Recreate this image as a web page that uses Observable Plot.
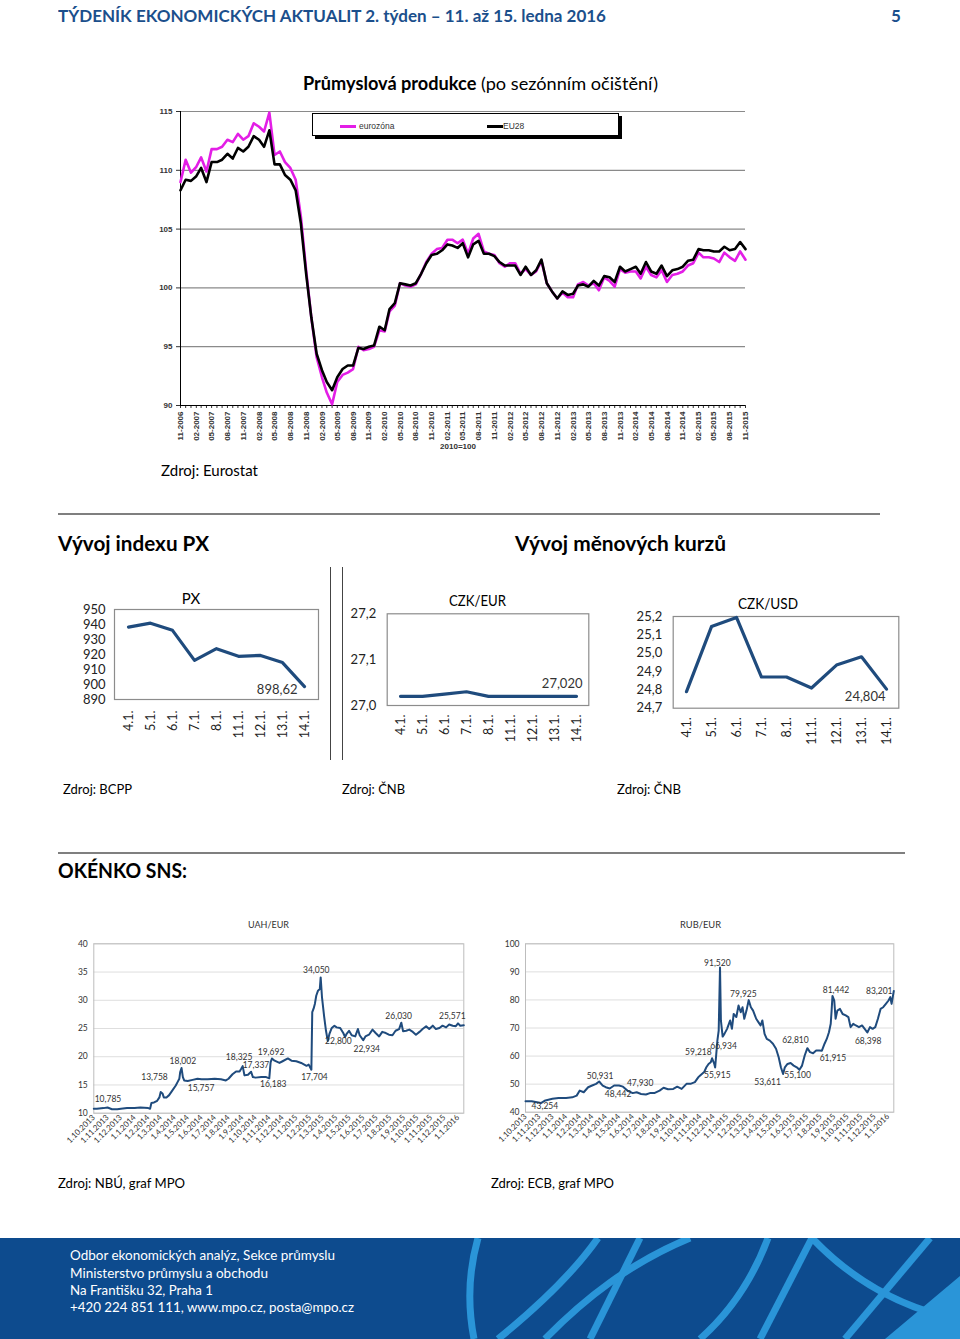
<!DOCTYPE html>
<html><head><meta charset="utf-8">
<script src="https://cdn.jsdelivr.net/npm/d3@7"></script>
<script src="https://cdn.jsdelivr.net/npm/@observablehq/plot@0.6"></script>
<style>
body{margin:0;background:#fff;}
#page{position:relative;width:960px;height:1339px;overflow:hidden;font-family:Lato,"Open Sans",sans-serif;background:#fff;}
.abs{position:absolute;white-space:nowrap;}
svg{display:block;overflow:visible;}
</style></head><body><div id="page"></div>
<script>
// ---------------- DATA ----------------
// Industrial production (2010=100), monthly 11-2006 .. 11-2015
const ipStart = "2006-11-01";
const eurozone = [109.0,110.9,109.8,110.3,111.1,109.9,111.8,111.8,112.0,112.6,
112.4,113.1,112.6,112.9,114.0,113.7,113.3,114.9,111.3,111.6,
110.7,110.2,109.2,106.1,101.5,97.5,94.1,92.4,91.1,90.1,
92.0,92.6,92.8,93.1,95.0,94.7,94.8,95.0,96.4,96.3,
98.0,98.5,100.4,100.2,100.1,100.3,101.2,102.2,102.9,103.3,
103.4,104.1,104.1,103.8,104.1,102.9,104.2,104.6,103.1,102.9,
102.8,102.1,101.8,102.1,102.1,101.2,101.6,101.1,101.4,102.3,
100.4,99.7,99.1,99.6,99.2,99.2,100.3,100.5,100.2,100.4,
99.8,100.9,100.6,100.1,101.6,101.3,101.4,101.4,100.8,101.8,
101.1,100.9,101.5,100.5,101.1,101.2,101.4,101.9,102.1,103.0,
102.6,102.6,102.5,102.2,103.0,102.6,102.3,103.1,102.4];
const eu28 = [108.3,109.2,109.1,109.5,110.2,109.0,110.7,110.7,110.9,111.4,
111.0,111.9,111.6,112.0,112.9,112.6,112.0,113.4,110.5,110.5,
109.6,109.2,108.3,105.5,101.2,97.5,94.4,93.0,92.0,91.3,
92.4,93.1,93.4,93.4,94.9,94.8,95.0,95.1,96.7,96.4,
98.2,98.7,100.4,100.3,100.2,100.4,101.2,102.1,102.8,102.9,
103.2,103.7,103.6,103.4,103.8,102.6,103.7,104.0,102.9,102.9,
102.7,102.2,101.9,101.9,101.9,101.1,101.8,101.1,101.5,102.4,
100.4,99.7,99.1,99.7,99.4,99.5,100.2,100.3,100.1,100.6,
100.2,101.0,100.9,100.5,101.8,101.4,101.6,101.8,101.2,102.2,
101.4,101.2,101.9,101.0,101.5,101.6,101.8,102.3,102.4,103.3,
103.2,103.2,103.1,103.1,103.5,103.2,103.3,103.9,103.3];
const ipYTicks = [90,95,100,105,110,115];
const ipGrid = [95,100,105,110,115];

// Daily charts (4.1. - 14.1.2016)
const dayLabels = ["4.1.","5.1.","6.1.","7.1.","8.1.","11.1.","12.1.","13.1.","14.1."];
const pxValues = [938.3,940.9,936.1,916.1,923.9,918.8,919.4,914.6,898.62];
const czkEurValues = [27.02,27.02,27.025,27.03,27.02,27.02,27.02,27.02,27.02];
const czkUsdValues = [24.79,25.145,25.195,24.87,24.87,24.81,24.935,24.98,24.804];
const pxTicks = [890,900,910,920,930,940,950];
const czkEurTicks = [27.0,27.1,27.2];
const czkUsdTicks = [24.7,24.8,24.9,25.0,25.1,25.2];

// UAH/EUR
const uahSeries = [["2013-10-01",10.79],["2013-10-08",10.8],["2013-10-23",10.9],["2013-11-01",11.0],["2013-11-11",10.7],["2013-11-23",10.7],["2013-12-01",10.8],["2013-12-15",10.9],["2014-01-01",10.9],["2014-01-14",11.0],["2014-02-01",10.9],["2014-02-05",10.8],["2014-02-08",11.8],["2014-02-14",11.9],["2014-02-21",12.2],["2014-02-26",12.8],["2014-03-01",13.76],["2014-03-05",13.5],["2014-03-08",12.8],["2014-03-14",12.8],["2014-03-20",13.2],["2014-03-27",14.0],["2014-04-04",14.9],["2014-04-08",15.5],["2014-04-12",16.1],["2014-04-14",17.3],["2014-04-17",18.0],["2014-04-20",16.4],["2014-04-23",15.8],["2014-05-01",15.7],["2014-05-12",15.9],["2014-05-23",16.1],["2014-06-01",16.0],["2014-06-15",16.0],["2014-07-01",16.1],["2014-07-15",16.0],["2014-07-26",15.8],["2014-08-01",16.1],["2014-08-10",16.9],["2014-08-18",17.4],["2014-08-26",17.4],["2014-08-30",17.9],["2014-09-02",18.33],["2014-09-06",16.7],["2014-09-14",16.8],["2014-09-21",17.34],["2014-09-25",16.4],["2014-10-01",16.3],["2014-10-14",16.4],["2014-10-25",16.4],["2014-11-01",16.18],["2014-11-04",19.0],["2014-11-07",19.69],["2014-11-13",19.3],["2014-11-24",18.9],["2014-12-01",19.2],["2014-12-13",19.7],["2014-12-21",19.3],["2015-01-01",19.2],["2015-01-12",18.9],["2015-01-24",18.4],["2015-01-29",18.6],["2015-02-04",17.7],["2015-02-06",27.9],["2015-02-09",28.5],["2015-02-12",29.4],["2015-02-15",30.8],["2015-02-19",31.7],["2015-02-23",32.0],["2015-02-25",34.05],["2015-02-28",30.5],["2015-03-05",27.0],["2015-03-09",24.6],["2015-03-13",22.8],["2015-03-17",24.1],["2015-03-22",25.1],["2015-03-28",25.5],["2015-04-02",25.2],["2015-04-10",25.1],["2015-04-17",24.2],["2015-04-21",23.5],["2015-04-25",24.1],["2015-04-30",24.6],["2015-05-06",23.8],["2015-05-14",23.6],["2015-05-20",24.9],["2015-05-24",23.8],["2015-06-01",22.93],["2015-06-06",23.6],["2015-06-14",23.9],["2015-06-22",24.8],["2015-06-29",24.2],["2015-07-07",23.6],["2015-07-14",24.4],["2015-07-22",24.2],["2015-07-29",23.9],["2015-08-06",23.8],["2015-08-13",24.6],["2015-08-21",24.9],["2015-08-26",26.03],["2015-08-30",24.5],["2015-09-06",24.6],["2015-09-13",24.8],["2015-09-21",24.4],["2015-09-28",23.9],["2015-10-06",24.4],["2015-10-13",24.9],["2015-10-21",25.4],["2015-10-28",24.9],["2015-11-05",25.5],["2015-11-12",24.9],["2015-11-20",25.1],["2015-11-27",25.5],["2015-12-05",25.2],["2015-12-12",25.7],["2015-12-20",25.5],["2015-12-27",25.4],["2016-01-01",25.9],["2016-01-06",25.5],["2016-01-14",25.57]];
const uahNotes = [["10,785","2013-11-02",12.4],["13,758","2014-02-15",16.3],["18,002","2014-04-20",19.15],["15,757","2014-05-31",14.37],["18,325","2014-08-25",19.86],["17,337","2014-10-02",18.45],["19,692","2014-11-05",20.75],["16,183","2014-11-10",15.08],["17,704","2015-02-11",16.32],["34,050","2015-02-15",35.26],["22,800","2015-04-06",22.7],["22,934","2015-06-09",21.28],["26,030","2015-08-20",27.12],["25,571","2015-12-19",27.12]];
const uahTicks = [10,15,20,25,30,35,40];

// RUB/EUR
const rubSeries = [["2013-10-01",43.9],["2013-10-15",43.9],["2013-11-05",43.25],["2013-11-15",44.2],["2013-12-01",44.8],["2013-12-15",45.1],["2014-01-01",45.1],["2014-01-15",45.3],["2014-01-25",45.9],["2014-02-01",47.7],["2014-02-10",47.1],["2014-02-20",48.9],["2014-03-01",49.5],["2014-03-10",50.1],["2014-03-17",50.93],["2014-03-25",49.5],["2014-04-01",48.9],["2014-04-10",48.44],["2014-04-20",49.5],["2014-05-01",49.5],["2014-05-10",49.1],["2014-05-20",47.7],["2014-06-01",46.8],["2014-06-10",47.1],["2014-06-20",46.5],["2014-07-01",46.3],["2014-07-10",46.8],["2014-07-20",46.8],["2014-08-01",47.7],["2014-08-10",48.7],["2014-08-20",48.2],["2014-09-01",48.3],["2014-09-10",49.1],["2014-09-20",48.3],["2014-10-01",50.1],["2014-10-10",50.1],["2014-10-20",50.7],["2014-10-28",52.5],["2014-11-01",53.1],["2014-11-10",54.3],["2014-11-15",56.0],["2014-11-20",57.2],["2014-11-25",57.8],["2014-11-28",59.22],["2014-12-03",57.2],["2014-12-05",55.92],["2014-12-10",65.5],["2014-12-13",69.1],["2014-12-16",91.52],["2014-12-18",72.7],["2014-12-22",66.93],["2014-12-26",67.9],["2015-01-01",69.7],["2015-01-08",72.7],["2015-01-12",69.7],["2015-01-16",75.0],["2015-01-22",73.9],["2015-01-27",78.0],["2015-02-01",75.6],["2015-02-05",77.4],["2015-02-09",73.3],["2015-02-14",76.2],["2015-02-19",79.93],["2015-02-24",77.4],["2015-03-01",76.2],["2015-03-08",73.3],["2015-03-13",72.1],["2015-03-18",70.9],["2015-03-22",72.7],["2015-03-27",67.9],["2015-04-01",66.1],["2015-04-08",65.5],["2015-04-15",64.4],["2015-04-22",62.6],["2015-04-28",59.6],["2015-05-03",56.0],["2015-05-08",53.61],["2015-05-12",56.0],["2015-05-18",57.2],["2015-05-25",57.5],["2015-06-01",56.6],["2015-06-08",56.0],["2015-06-14",55.1],["2015-06-20",56.6],["2015-06-26",60.2],["2015-07-02",62.81],["2015-07-08",61.4],["2015-07-15",61.0],["2015-07-22",62.0],["2015-07-29",62.0],["2015-08-04",61.92],["2015-08-10",64.4],["2015-08-15",66.1],["2015-08-20",68.5],["2015-08-24",71.5],["2015-08-26",76.2],["2015-08-28",81.44],["2015-09-01",79.8],["2015-09-04",73.3],["2015-09-08",76.2],["2015-09-14",76.8],["2015-09-20",75.0],["2015-09-27",74.5],["2015-10-03",73.9],["2015-10-08",70.3],["2015-10-14",71.5],["2015-10-20",70.9],["2015-10-27",70.3],["2015-11-03",70.9],["2015-11-09",69.7],["2015-11-15",68.4],["2015-11-21",70.3],["2015-11-27",69.7],["2015-12-03",70.3],["2015-12-09",73.3],["2015-12-15",76.8],["2015-12-21",77.4],["2015-12-27",78.6],["2016-01-02",79.8],["2016-01-06",81.0],["2016-01-09",78.6],["2016-01-14",83.2]];
const rubNotes = [["43,254","2013-11-14",42.0],["50,931","2014-03-19",52.7],["48,442","2014-04-29",46.3],["47,930","2014-06-18",50.2],["59,218","2014-10-28",61.3],["55,915","2014-12-10",53.1],["91,520","2014-12-10",93.0],["66,934","2014-12-24",63.4],["79,925","2015-02-07",81.9],["53,611","2015-04-03",50.6],["55,100","2015-06-10",53.1],["62,810","2015-06-05",65.5],["61,915","2015-08-29",59.1],["81,442","2015-09-05",83.3],["68,398","2015-11-17",65.2],["83,201","2015-12-12",83.0]];
const rubTicks = [40,50,60,70,80,90,100];

// ---------------- HELPERS ----------------
const page = document.getElementById("page");
const parse = d3.utcParse("%Y-%m-%d");
const BLUE = "#1f4b7d";
const CAL = "Lato, 'Open Sans', sans-serif";

function txt(html, x, yc, size, o = {}) {
  const el = document.createElement("div");
  el.className = "abs";
  el.innerHTML = html;
  Object.assign(el.style, {
    left: x + "px", top: (yc - size * 0.62) + "px", fontSize: size + "px",
    lineHeight: (size * 1.24) + "px", color: o.color || "#000",
    fontWeight: o.bold ? "700" : "400", fontFamily: o.font || CAL, zIndex: 5
  });
  page.appendChild(el);
  const w0 = el.getBoundingClientRect().width;
  let wf = w0;
  if (o.w) { el.style.transformOrigin = "0 50%"; el.style.transform = `scaleX(${o.w / w0})`; wf = o.w; }
  if (o.center) el.style.left = (x - wf / 2) + "px";
  return el;
}
function box(x, y, w, h, style) {
  const el = document.createElement("div");
  el.className = "abs";
  Object.assign(el.style, {left: x + "px", top: y + "px", width: w + "px", height: h + "px"}, style);
  page.appendChild(el);
  return el;
}
function place(svg, x, y) {
  const w = +svg.getAttribute("width"), h = +svg.getAttribute("height");
  svg.style.maxWidth = "none";
  svg.style.width = w + "px";
  svg.style.height = h + "px";
  const el = box(x, y, w, h, {});
  el.appendChild(svg);
  return el;
}

// ---------------- HEADER & TEXT ----------------
txt("TÝDENÍK EKONOMICKÝCH AKTUALIT 2. týden – 11. až 15. ledna 2016", 58, 16, 17, {bold: true, color: "#1b4f8c", w: 548});
txt("5", 891, 16, 17, {bold: true, color: "#1b4f8c"});
txt("<b>Průmyslová produkce</b> (po sezónním očištění)", 303, 83, 18, {w: 355});
txt("Zdroj: Eurostat", 161, 470, 15, {w: 97});
box(58, 513, 822, 2, {background: "#7f7f7f"});
txt("Vývoj indexu PX", 58, 543, 20, {bold: true, w: 151});
txt("Vývoj měnových kurzů", 515, 543, 20, {bold: true, w: 211});
box(330, 567, 1, 193, {background: "#444"});
box(342, 567, 1, 193, {background: "#444"});
txt("Zdroj: BCPP", 63, 789, 13, {w: 69});
txt("Zdroj: ČNB", 342, 789, 13, {w: 63});
txt("Zdroj: ČNB", 617, 789, 13, {w: 64});
box(58, 852, 847, 2, {background: "#7f7f7f"});
txt("OKÉNKO SNS:", 58, 870, 20, {bold: true, w: 129});
txt("Zdroj: NBÚ, graf MPO", 58, 1183, 14, {w: 127});
txt("Zdroj: ECB, graf MPO", 491, 1183, 14, {w: 123});

// ---------------- INDUSTRIAL PRODUCTION ----------------
const t0 = parse(ipStart);
const months = eurozone.map((_, i) => d3.utcMonth.offset(t0, i));
const quarters = months.filter((_, i) => i % 3 === 0);
const fmtMY = d => String(d.getUTCMonth() + 1).padStart(2, "0") + "-" + d.getUTCFullYear();
const ezData = eurozone.map((v, i) => ({date: months[i], v}));
const euData = eu28.map((v, i) => ({date: months[i], v}));

const ipChart = Plot.plot({
  width: 610, height: 360, marginLeft: 30, marginRight: 15, marginTop: 11, marginBottom: 55,
  style: {fontFamily: "'Liberation Sans', Arial, sans-serif", fontSize: "8px", fontWeight: "bold", color: "#333", background: "transparent"},
  x: {type: "utc", domain: [months[0], months[months.length - 1]], label: null},
  y: {domain: [90, 115], label: null},
  marks: [
    Plot.ruleY(ipGrid, {stroke: "#8a8a8a", strokeWidth: 1.2}),
    Plot.axisY({ticks: ipYTicks, tickSize: 4, tickPadding: 4, fontSize: 8, tickFormat: d => d, label: null}),
    Plot.axisX({ticks: months, tickSize: 3, tickFormat: () => "", label: null}),
    Plot.axisX({ticks: quarters, tickSize: 0, tickPadding: 6, tickRotate: -90, tickFormat: fmtMY, fontSize: 8, label: null}),
    Plot.ruleX([months[0]], {stroke: "#000", strokeWidth: 1}),
    Plot.ruleY([90], {stroke: "#000", strokeWidth: 1}),
    Plot.line(ezData, {x: "date", y: "v", stroke: "#e31ee6", strokeWidth: 2.6}),
    Plot.line(euData, {x: "date", y: "v", stroke: "#000", strokeWidth: 2.6})
  ]
});
place(ipChart, 150, 100);
txt("2010=100", 440, 447, 7.5, {bold: true, font: "'Liberation Sans', Arial, sans-serif", color: "#333", w: 36});
// legend
box(312, 113, 305, 21, {border: "1px solid #000", background: "#fff", boxShadow: "3px 3px 0 #000", zIndex: 4});
box(340, 125, 16, 3, {background: "#e31ee6", zIndex: 5});
txt("eurozóna", 359, 126, 8.5, {font: "'Liberation Sans', Arial, sans-serif", color: "#333"});
box(487, 125, 16, 3, {background: "#000", zIndex: 5});
txt("EU28", 503, 126, 8.5, {font: "'Liberation Sans', Arial, sans-serif", color: "#333"});

// ---------------- DAILY CHARTS ----------------
const comma = dec => d => d.toFixed(dec).replace(".", ",");
function smallChart(values, o) {
  const data = values.map((v, i) => ({day: dayLabels[i], v}));
  const last = [data[data.length - 1]];
  return Plot.plot({
    width: o.width, height: o.height, marginLeft: o.ml, marginRight: o.mr, marginTop: o.mt, marginBottom: o.mb,
    style: {fontFamily: CAL, color: "#222", background: "transparent"},
    x: {type: "point", domain: dayLabels, padding: 0.5, label: null},
    y: {domain: o.yDomain, label: null},
    marks: [
      Plot.frame({stroke: "#8c8c8c", strokeWidth: 1.2}),
      Plot.axisY({ticks: o.yTicks, tickSize: 0, tickPadding: o.yPad, tickFormat: o.fmt, fontSize: 13, label: null}),
      Plot.axisX({tickSize: 0, tickPadding: o.xPad, tickRotate: -90, fontSize: 12.5, label: null}),
      Plot.line(data, {x: "day", y: "v", stroke: BLUE, strokeWidth: 3.2}),
      Plot.text(last, {x: "day", y: "v", text: () => o.label, textAnchor: "end", dx: o.ldx, dy: o.ldy, fontSize: 13, fill: "#333"})
    ]
  });
}
place(smallChart(pxValues, {width: 270, height: 160, ml: 54, mr: 12, mt: 24, mb: 46, yDomain: [890, 950], yTicks: pxTicks, fmt: d => d, yPad: 9, xPad: 11, label: "898,62", ldx: -7, ldy: 3}), 60, 585);
txt("PX", 191, 598, 15, {center: true});
place(smallChart(czkEurValues, {width: 260, height: 160, ml: 46.7, mr: 11.7, mt: 23.3, mb: 45, yDomain: [27.0, 27.2], yTicks: czkEurTicks, fmt: comma(1), yPad: 11, xPad: 9, label: "27,020", ldx: 6, ldy: -13}), 340, 590);
txt("CZK/EUR", 477, 600, 15, {center: true, w: 57});
place(smallChart(czkUsdValues, {width: 290, height: 160, ml: 52.7, mr: 11.7, mt: 26, mb: 42.3, yDomain: [24.7, 25.2], yTicks: czkUsdTicks, fmt: comma(1), yPad: 11, xPad: 9, label: "24,804", ldx: -1, ldy: 8}), 620, 590);
txt("CZK/USD", 768, 603, 15, {center: true, w: 60});

// ---------------- SNS CHARTS ----------------
const fmtDMY = d => `${d.getUTCDate()}.${d.getUTCMonth() + 1}.${d.getUTCFullYear()}`;
function snsChart(series, notes, ticks, o) {
  const data = series.map(([d, v]) => ({date: parse(d), v}));
  const nd = notes.map(([t, d, v]) => ({t, date: parse(d), v}));
  const dom = [parse("2013-10-01"), parse("2016-01-14")];
  const mt = d3.utcMonth.range(dom[0], parse("2016-01-02"));
  return Plot.plot({
    width: o.width, height: o.height, marginLeft: o.ml, marginRight: o.mr, marginTop: o.mt, marginBottom: o.mb,
    style: {fontFamily: CAL, color: "#333", background: "transparent"},
    x: {type: "utc", domain: dom, label: null},
    y: {domain: [ticks[0], ticks[ticks.length - 1]], label: null},
    marks: [
      Plot.ruleY(ticks, {stroke: "#dedede", strokeWidth: 1}),
      Plot.frame({stroke: "#bdbdbd", strokeWidth: 1}),
      Plot.axisY({ticks, tickSize: 0, tickPadding: 6, fontSize: 8.5, tickFormat: d => d, label: null}),
      Plot.axisX({ticks: mt, tickSize: 0, tickPadding: 3, tickRotate: -45, tickFormat: fmtDMY, fontSize: 8, label: null}),
      Plot.line(data, {x: "date", y: "v", stroke: BLUE, strokeWidth: 2}),
      Plot.text(nd, {x: "date", y: "v", text: "t", fontSize: 8.5, fill: "#333"})
    ]
  });
}
place(snsChart(uahSeries, uahNotes, uahTicks, {width: 415, height: 240, ml: 33.3, mr: 11.7, mt: 28.3, mb: 42.3}), 60, 915);
txt("UAH/EUR", 268, 925, 9, {center: true, w: 41, color: "#333"});
place(snsChart(rubSeries, rubNotes, rubTicks, {width: 415, height: 240, ml: 35, mr: 11.7, mt: 28.3, mb: 43.3}), 490, 915);
txt("RUB/EUR", 700, 925, 9, {center: true, w: 41, color: "#333"});

// ---------------- FOOTER ----------------
const foot = box(0, 1238, 960, 101, {background: "#0d4b8e", overflow: "hidden"});
foot.innerHTML = `<svg width="960" height="101" viewBox="0 0 960 101">
<g fill="none" stroke="#2a95d8" stroke-width="7" stroke-linecap="butt">
<path d="M474,101 C468,70 468,35 478,0"/>
<path d="M498,101 C530,75 570,40 598,0"/>
<path d="M545,101 C585,60 630,25 690,0"/>
<path d="M590,101 L640,0"/>
<path d="M700,101 C735,70 755,35 768,0"/>
<path d="M760,101 L812,0"/>
<path d="M812,0 C850,40 900,70 960,82"/>
<path d="M845,101 L930,0"/>
</g>
<path d="M885,101 L960,38 L960,101 Z" fill="#2a95d8"/>
</svg>`;
txt("Odbor ekonomických analýz, Sekce průmyslu", 70, 1255, 13.5, {color: "#fff", w: 265});
txt("Ministerstvo průmyslu a obchodu", 70, 1273, 13.5, {color: "#fff", w: 198});
txt("Na Františku 32, Praha 1", 70, 1290, 13.5, {color: "#fff", w: 143});
txt("+420 224 851 111, www.mpo.cz, posta@mpo.cz", 70, 1307, 13.5, {color: "#fff", w: 284});
</script></body></html>
